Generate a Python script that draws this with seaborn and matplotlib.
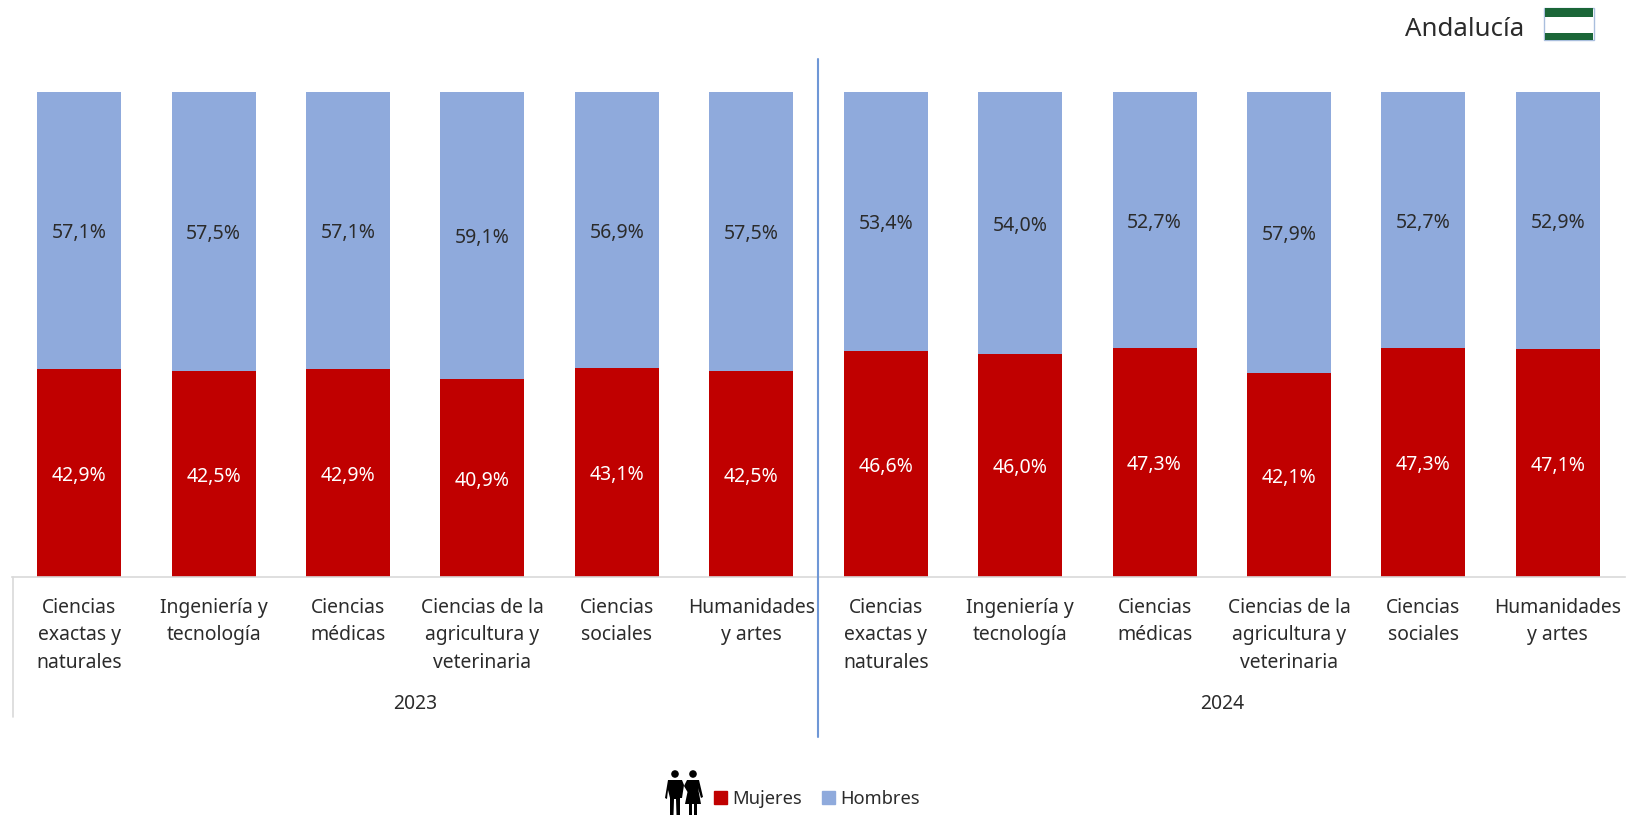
import matplotlib
matplotlib.use("Agg")
import matplotlib.pyplot as plt
from matplotlib.patches import Rectangle, Circle, Polygon, Patch
import pandas as pd
import seaborn as sns

# datos
years = ["2023", "2024"]
areas = [
    "Ciencias\nexactas y\nnaturales",
    "Ingeniería y\ntecnología",
    "Ciencias\nmédicas",
    "Ciencias de la\nagricultura y\nveterinaria",
    "Ciencias\nsociales",
    "Humanidades\ny artes",
]
mujeres_2023 = [42.9, 42.5, 42.9, 40.9, 43.1, 42.5]
mujeres_2024 = [46.6, 46.0, 47.3, 42.1, 47.3, 47.1]
hombres_2023 = [57.1, 57.5, 57.1, 59.1, 56.9, 57.5]
hombres_2024 = [53.4, 54.0, 52.7, 57.9, 52.7, 52.9]

ROJO = "#C00000"
AZUL = "#8FAADC"
GRIS = "#D9D9D9"
TEXTO = "#2B2B2B"
W, H = 1626, 815

sns.set_theme(style="white")
plt.rcParams["font.family"] = ["Noto Sans", "DejaVu Sans"]

df = pd.DataFrame({
    "anio": [years[0]] * 6 + [years[1]] * 6,
    "area": areas * 2,
    "mujeres": mujeres_2023 + mujeres_2024,
    "hombres": hombres_2023 + hombres_2024,
})
df["clave"] = df["anio"] + "|" + df["area"]

fig = plt.figure(figsize=(W / 100, H / 100), dpi=100)
ax = fig.add_axes([12 / W, 1 - 577 / H, (1625 - 12) / W, (577 - 92) / H])

sns.barplot(data=df, x="clave", y="mujeres", color=ROJO, saturation=1, width=0.625,
            linewidth=0, ax=ax)
sns.barplot(data=df, x="clave", y="hombres", bottom=df["mujeres"].values, color=AZUL,
            saturation=1, width=0.625, linewidth=0, ax=ax)

ax.set_xlim(-0.5, 11.5)
ax.set_ylim(0, 100)
ax.set_xlabel("")
ax.set_ylabel("")
ax.set_yticks([])
ax.set_xticks(range(12))
ax.set_xticklabels(df["area"], fontsize=13.9, color=TEXTO, linespacing=1.5, va="top")
ax.tick_params(axis="x", length=0, pad=15)
sns.despine(ax=ax, left=True, top=True, right=True)
ax.spines["bottom"].set_color(GRIS)
ax.spines["bottom"].set_linewidth(1.2)

# etiquetas de valor
for cont, col in zip(ax.containers, ["white", TEXTO]):
    ax.bar_label(cont, labels=[f"{v:.1f}%".replace(".", ",") for v in cont.datavalues],
                 label_type="center", color=col, fontsize=14, padding=-2)

# capa en pixeles para lo que queda fuera del eje
over = fig.add_axes([0, 0, 1, 1], zorder=5)
over.set_xlim(0, W)
over.set_ylim(H, 0)
over.axis("off")

over.plot([12.5, 12.5], [577, 717], color=GRIS, lw=1.2)
over.plot([818, 818], [59, 737], color="#6F97D6", lw=1.5)

over.text(415, 704, years[0], ha="center", va="center", fontsize=13.9, color=TEXTO)
over.text(1222, 704, years[1], ha="center", va="center", fontsize=13.9, color=TEXTO)
over.text(1405, 30, "Andalucía", ha="left", va="center", fontsize=18.6, color=TEXTO)

# bandera
over.add_patch(Rectangle((1544, 8), 50, 32, fc="white", ec="#A9BEDD", lw=1))
over.add_patch(Rectangle((1545, 8), 48, 9, fc="#1B6638", ec="none"))
over.add_patch(Rectangle((1545, 33), 48, 7, fc="#1B6638", ec="none"))

# pictograma de personas
over.add_patch(Circle((675, 774), 3.8, fc="black", ec="none"))
over.add_patch(Polygon([(668, 780), (682, 780), (684, 785), (682, 798), (680, 798), (680, 815),
                        (676.5, 815), (676, 799), (674, 799), (673.5, 815), (670, 815), (670, 798),
                        (668, 790), (667, 799), (665, 798)],
                       fc="black", ec="none"))
over.add_patch(Circle((693, 774), 3.8, fc="black", ec="none"))
over.add_patch(Polygon([(687, 780), (699, 780), (703, 797), (701, 798), (698, 788), (701, 804),
                        (697, 804), (697, 815), (694, 815), (694, 804), (692, 804), (692, 815),
                        (689, 815), (689, 804), (685, 804), (687.5, 792), (684, 786)],
                       fc="black", ec="none"))

fig.legend(handles=[Patch(color=ROJO, label="Mujeres"), Patch(color=AZUL, label="Hombres")],
           loc="center left", bbox_to_anchor=(714 / W, 1 - 799 / H), ncols=2, frameon=False,
           fontsize=13.2, labelcolor=TEXTO, handlelength=0.72, handleheight=0.72,
           handletextpad=0.3, columnspacing=1.05, borderpad=0, borderaxespad=0)

fig.savefig("out.png", dpi=100, facecolor="white")
plt.close(fig)
